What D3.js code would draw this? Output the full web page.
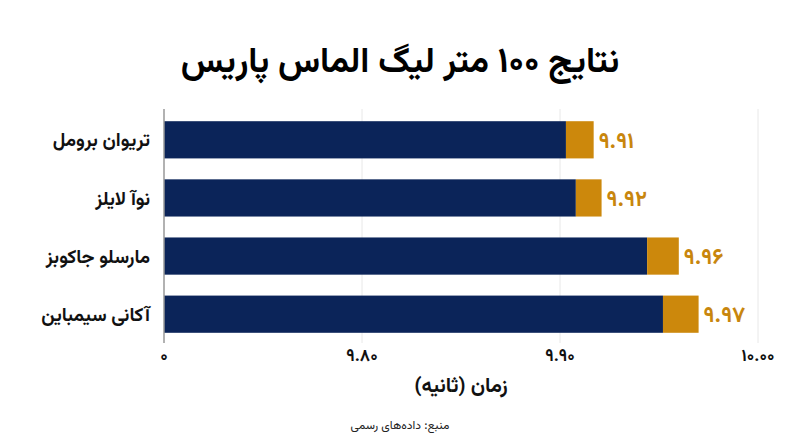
<!DOCTYPE html>
<html><head><meta charset="utf-8">
<script src="https://cdn.jsdelivr.net/npm/d3@7"></script>
<style>
body{margin:0;background:#fff;}
svg{display:block;}
</style></head>
<body><svg id="c" width="800" height="447"></svg>
<script>
const athletes = ["تریوان برومل","نوآ لایلز","مارسلو جاکوبز","آکانی سیمباین"];
const times = [9.91, 9.92, 9.96, 9.97];
const timeLabels = ["۹.۹۱","۹.۹۲","۹.۹۶","۹.۹۷"];
const baseValues = [9.903, 9.908, 9.944, 9.952];
const totalValues = [9.917, 9.921, 9.960, 9.970];
const tickValues = [9.70, 9.80, 9.90, 10.00];
const tickLabels = ["۰","۹.۸۰","۹.۹۰","۱۰.۰۰"];
const title = "نتایج ۱۰۰ متر لیگ الماس پاریس";
const xTitle = "زمان (ثانیه)";
const source = "منبع: داده‌های رسمی";

const FONT = "Vazirmatn, 'Noto Sans Arabic', 'DejaVu Sans', sans-serif";
const svg = d3.select("#c").style("font-family", FONT);
const x = d3.scaleLinear().domain([9.70, 10.00]).range([164, 758]);
const y = d3.scaleBand().domain(athletes).range([109, 345]).paddingInner(0.36).paddingOuter(0.21);

// gridlines
svg.append("g").selectAll("line").data(tickValues.slice(1)).join("line")
  .attr("x1", d => x(d)).attr("x2", d => x(d))
  .attr("y1", 109).attr("y2", 343)
  .attr("stroke", "#e8e8e8").attr("stroke-width", 1);

const rows = athletes.map((a, i) => ({a, base: baseValues[i], total: totalValues[i], lab: timeLabels[i]}));

svg.append("g").selectAll("rect").data(rows).join("rect")
  .attr("x", x(9.70)).attr("y", d => y(d.a))
  .attr("width", d => x(d.base) - x(9.70)).attr("height", y.bandwidth())
  .attr("fill", "#0b2459");
svg.append("g").selectAll("rect").data(rows).join("rect")
  .attr("x", d => x(d.base)).attr("y", d => y(d.a))
  .attr("width", d => x(d.total) - x(d.base)).attr("height", y.bandwidth())
  .attr("fill", "#cc880c");

// axis line
svg.append("line").attr("x1", x(9.70)).attr("x2", x(9.70)).attr("y1", 109).attr("y2", 343)
  .attr("stroke", "#999").attr("stroke-width", 1.5);

// value labels
svg.append("g").selectAll("text").data(rows).join("text")
  .attr("x", d => x(d.total) + 5).attr("y", d => y(d.a) + y.bandwidth()/2)
  .attr("dy", "0.35em").attr("text-anchor", "start")
  .attr("fill", "#c8860d").attr("font-weight", "bold").attr("font-size", 22)
  .text(d => d.lab);

// category labels
svg.append("g").selectAll("text").data(rows).join("text")
  .attr("x", 150).attr("y", d => y(d.a) + y.bandwidth()/2)
  .attr("dy", "0.35em").attr("direction", "rtl").attr("text-anchor", "start")
  .attr("fill", "#111").attr("font-weight", "bold").attr("font-size", 19)
  .text(d => d.a);

// tick labels
svg.append("g").selectAll("text").data(tickValues).join("text")
  .attr("x", d => x(d)).attr("y", 355).attr("dy", "0.35em")
  .attr("text-anchor", "middle").attr("font-weight", "bold").attr("font-size", 17)
  .attr("fill", "#111")
  .text((d, i) => tickLabels[i]);

// titles
svg.append("text").attr("x", 400).attr("y", 60).attr("dy", "0.35em")
  .attr("direction", "rtl").attr("text-anchor", "middle")
  .attr("font-weight", "bold").attr("font-size", 35).attr("fill", "#000")
  .text(title);
svg.append("text").attr("x", 461).attr("y", 385).attr("dy", "0.35em")
  .attr("direction", "rtl").attr("text-anchor", "middle")
  .attr("font-weight", "bold").attr("font-size", 20.5).attr("fill", "#111")
  .text(xTitle);
svg.append("text").attr("x", 400).attr("y", 425).attr("dy", "0.35em")
  .attr("direction", "rtl").attr("text-anchor", "middle")
  .attr("font-size", 12).attr("fill", "#222")
  .text(source);
</script></body></html>
